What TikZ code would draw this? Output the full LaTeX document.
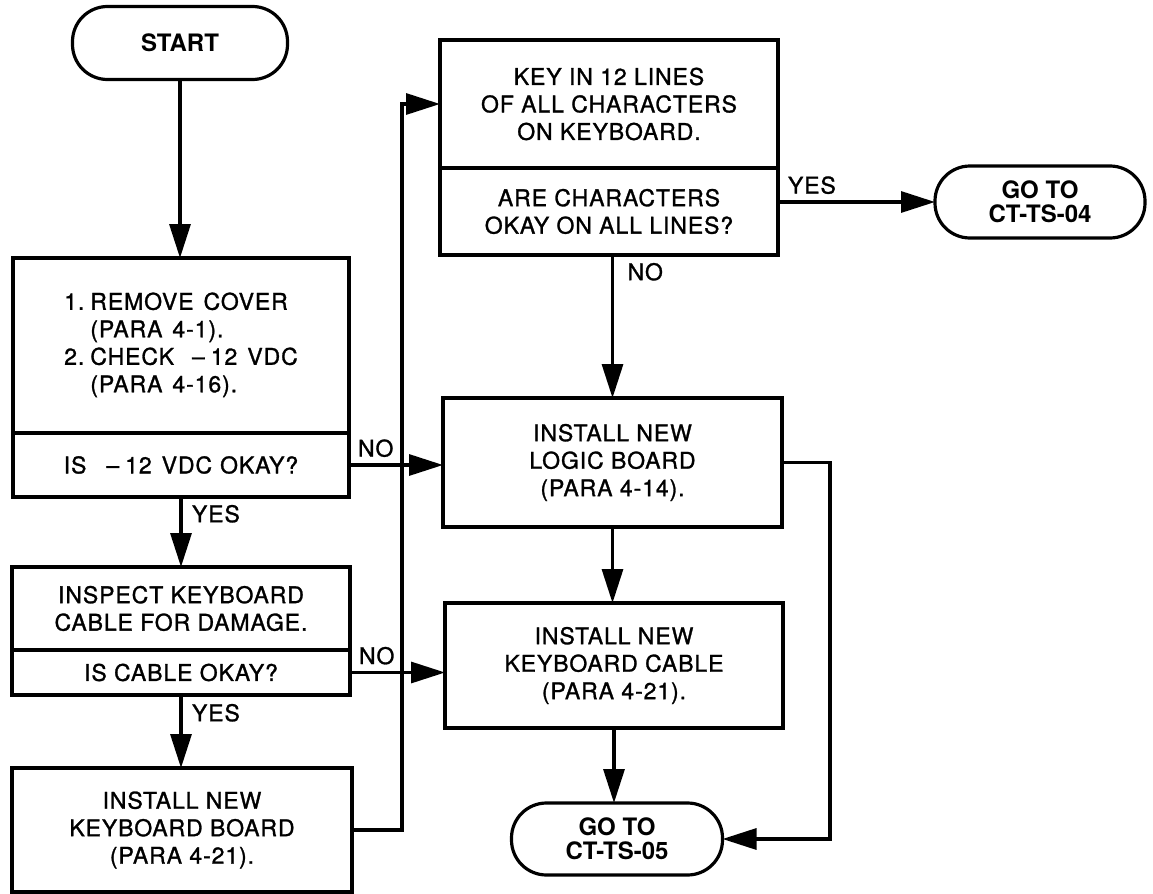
\documentclass[tikz,border=0pt]{standalone}
\usepackage{fontspec}
\setmainfont{TeX Gyre Heros}
\newfontfamily\bxfam[LetterSpace=4,WordSpace=1.8,FakeBold=1.2]{TeX Gyre Heros}
\newfontfamily\lbfam[LetterSpace=4,FakeBold=1.2]{TeX Gyre Heros}
\usetikzlibrary{arrows.meta}
\newcommand\bxfont{\bxfam\fontsize{11.5}{13.75}\selectfont}
\newcommand\lbfont{\lbfam\fontsize{11.5}{13.75}\selectfont}
\newcommand\tmfont{\fontsize{12}{11.8}\selectfont\bfseries}
\begin{document}
\begin{tikzpicture}[x=0.5pt,y=-0.5pt,
  every node/.style={inner sep=0pt, outer sep=0pt},
  box/.style={draw, line width=1.6pt, align=center, font=\bxfont},
  term/.style={draw, line width=1.6pt, rounded corners=17.5pt, align=center, font=\tmfont},
  arr/.style={line width=1.6pt, -{Triangle[length=17pt,width=10.5pt]}},
  lab/.style={font=\lbfont}
]
\useasboundingbox (0,0) rectangle (1153,894);

% left column
\node[term, minimum width=107.5pt, minimum height=36.5pt] (start) at (180,43) {START};
\node[box, minimum width=168pt, minimum height=87.5pt] (b1a) at (181,345.5)
  {\begin{tabular}{@{}l@{\hspace{3pt}}l@{}}1. & REMOVE\hspace{5pt}COVER\\ & (PARA\hspace{5pt}4-1).\\ 2. & CHECK\hspace{9pt}–\hspace{3pt}12\hspace{5pt}VDC\\ & (PARA\hspace{5pt}4-16).\end{tabular}};
\node[box, minimum width=168pt, minimum height=32pt] (b1b) at (181,465) {IS\hspace{10pt}–\hspace{3pt}12\hspace{5pt}VDC\hspace{4pt}OKAY?};
\node[box, minimum width=169pt, minimum height=41.5pt] (b2a) at (181,608.5) {INSPECT KEYBOARD\\CABLE FOR DAMAGE.};
\node[box, minimum width=169pt, minimum height=22.5pt] (b2b) at (181,672.5) {IS CABLE OKAY?};
\node[box, minimum width=170pt, minimum height=62pt] (b3) at (182,830) {INSTALL NEW\\KEYBOARD BOARD\\(PARA 4-21).};

% right column
\node[box, minimum width=169pt, minimum height=64pt] (k1a) at (609,104) {KEY IN 12 LINES\\OF ALL CHARACTERS\\ON KEYBOARD.};
\node[box, minimum width=169pt, minimum height=43.5pt] (k1b) at (609,211.5) {ARE CHARACTERS\\OKAY ON ALL LINES?};
\node[term, minimum width=105pt, minimum height=36pt] (ct04) at (1040,202) {GO TO\\CT-TS-04};
\node[box, minimum width=169.5pt, minimum height=64.5pt] (logic) at (612.5,462.5) {INSTALL NEW\\LOGIC BOARD\\(PARA 4-14).};
\node[box, minimum width=169pt, minimum height=62.5pt] (cable) at (614,665.5) {INSTALL NEW\\KEYBOARD CABLE\\(PARA 4-21).};
\node[term, minimum width=105.5pt, minimum height=36pt] (ct05) at (617,839) {GO TO\\CT-TS-05};

% connectors
\draw[arr] (start.south) -- (start.south |- b1a.north);
\draw[arr] (b1b.east) -- node[lab, pos=0, anchor=south west, xshift=4.5pt, yshift=4pt] (no1) {NO} (logic.west |- b1b.east);
\draw[arr] (b1b.south) -- node[lab, pos=0, anchor=north west, xshift=5.5pt, yshift=-4pt] (yes1) {YES} (b1b.south |- b2a.north);
\draw[arr] (b2b.east) -- node[lab, pos=0, anchor=south west, xshift=4.5pt, yshift=4pt] (no2) {NO} (cable.west |- b2b.east);
\draw[arr] (b2b.south) -- node[lab, pos=0, anchor=north west, xshift=5.5pt, yshift=-4.5pt] (yes2) {YES} (b2b.south |- b3.north);
\draw[arr] (b3.east) -- ++(50,0) |- (k1a.west);
\draw[arr] (k1b.east |- ct04.west) -- node[lab, pos=0, anchor=south west, xshift=5pt, yshift=4pt] (yes3) {YES} (ct04.west);
\draw[arr] (logic.north |- k1b.south) -- node[lab, pos=0, anchor=north west, xshift=7.5pt, yshift=-4pt] (no3) {NO} (logic.north);
\draw[arr] (logic.south) -- (logic.south |- cable.north);
\draw[arr] (cable.south) -- (cable.south |- ct05.north);
\draw[arr] (logic.east) -- ++(48,0) |- (ct05.east);
\end{tikzpicture}
\end{document}
